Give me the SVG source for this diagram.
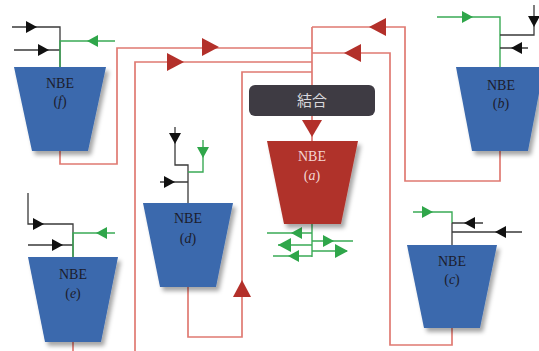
<svg xmlns="http://www.w3.org/2000/svg" xmlns:xlink="http://www.w3.org/1999/xlink" width="539" height="351" viewBox="0 0 539 351">
<style>
.red{fill:none;stroke:#e07a72;stroke-width:1.7}
.blk{fill:none;stroke:#3a3a3a;stroke-width:1.3}
.grn{fill:none;stroke:#3aaa55;stroke-width:1.4}
.ra{fill:#b3302a}
.ba{fill:#111}
.ga{fill:#2fa64a}
.blue{fill:#3a69ad;filter:url(#sh)}
.redn{fill:#b0332b;filter:url(#sh)}
.lbl{font-family:"Liberation Serif",serif;font-size:14px;text-anchor:middle;fill:#1c1c2c}
.lbl2{font-family:"Liberation Serif",serif;font-size:14px;text-anchor:middle;fill:#f3d6d2}
.it{font-style:italic}
</style>
<defs>
<filter id="sh" x="-20%" y="-20%" width="140%" height="140%">
<feDropShadow dx="3" dy="4" stdDeviation="2" flood-color="#000" flood-opacity="0.35"/>
</filter>
<path id="rt" d="M-8,-9 L9,0 L-8,9 Z"/>
<path id="st" d="M-5,-6 L6,0 L-5,6 Z"/>
<path id="bt" d="M-6,-7 L7,0 L-6,7 Z"/>
</defs>
<rect width="539" height="351" fill="#fff"/>

<g id="connectors">
<path class="red" d="M60,151 V164 H117 V48 H312"/>
<path class="red" d="M135,351 V62 H312"/>
<path class="red" d="M73,342 V351"/>
<path class="red" d="M188,287 V337 H242 V72 H312"/>
<path class="red" d="M500,151 V181 H405 V27 H312"/>
<path class="red" d="M452,328 V345 H390 V53 H312"/>
<path class="red" d="M312,27 V85"/>
<path class="red" d="M312,116 V141"/>
<use xlink:href="#rt" class="ra" transform="translate(210,47)"/>
<use xlink:href="#rt" class="ra" transform="translate(175,62)"/>
<use xlink:href="#rt" class="ra" transform="translate(378,27) rotate(180)"/>
<use xlink:href="#rt" class="ra" transform="translate(353,53) rotate(180)"/>
<use xlink:href="#rt" class="ra" transform="translate(242,289) rotate(-90)"/>
<path class="ra" d="M302,120 H322 L312,137 Z"/>
</g>

<g id="node-combine">
<rect x="249" y="85" width="126" height="31" rx="6" fill="#3e3b43"/>
<text x="312" y="106" font-family="'Noto Sans CJK JP','Noto Sans CJK SC',sans-serif" font-size="15" fill="#d8d8dc" text-anchor="middle">結合</text>
</g>

<g id="node-f">
<path class="blk" d="M12,27 H60 V67 M14,50 H60"/>
<path class="grn" d="M115,41 H60 V67"/>
<use xlink:href="#st" class="ba" transform="translate(31,27)"/>
<use xlink:href="#st" class="ba" transform="translate(43,50)"/>
<use xlink:href="#st" class="ga" transform="translate(93,41) rotate(180)"/>
<path class="blue" d="M14,67 H106 L88,151 H32 Z"/>
<text class="lbl" x="60" y="88">NBE</text>
<text class="lbl" x="60" y="106">(<tspan class="it">f</tspan>)</text>
</g>

<g id="node-b">
<path class="grn" d="M437,17 H500 V67"/>
<path class="blk" d="M534,5 V35 H500 M528,48 H500"/>
<use xlink:href="#st" class="ga" transform="translate(467,17)"/>
<use xlink:href="#st" class="ba" transform="translate(534,21) rotate(90)"/>
<use xlink:href="#st" class="ba" transform="translate(517,48) rotate(180)"/>
<path class="blue" d="M456,67 H544 L528,151 H472 Z"/>
<text class="lbl" x="501" y="90">NBE</text>
<text class="lbl" x="501" y="108">(<tspan class="it">b</tspan>)</text>
</g>

<g id="node-d">
<path class="blk" d="M175,127 V165 H188 V203 M160,182 H188"/>
<path class="grn" d="M203,140 V172 H188"/>
<use xlink:href="#st" class="ba" transform="translate(175,138) rotate(90)"/>
<use xlink:href="#st" class="ga" transform="translate(203,152) rotate(90)"/>
<use xlink:href="#st" class="ba" transform="translate(169,182)"/>
<path class="blue" d="M143,203 H233 L216,287 H160 Z"/>
<text class="lbl" x="188" y="223">NBE</text>
<text class="lbl" x="188" y="243">(<tspan class="it">d</tspan>)</text>
</g>

<g id="node-a">
<path class="grn" d="M312,224 V257 M267,233 H312 M278,245 H312 M312,241 H353 M273,256 H312 M312,251 H347"/>
<use xlink:href="#st" class="ga" transform="translate(297,233) rotate(180)"/>
<use xlink:href="#bt" class="ga" transform="translate(285,245) rotate(180)"/>
<use xlink:href="#st" class="ga" transform="translate(328,241)"/>
<use xlink:href="#st" class="ga" transform="translate(294,256) rotate(180)"/>
<use xlink:href="#bt" class="ga" transform="translate(341,251)"/>
<path class="redn" d="M267,141 H358 L341,224 H284 Z"/>
<text class="lbl2" x="312" y="161">NBE</text>
<text class="lbl2" x="312" y="180">(<tspan class="it">a</tspan>)</text>
</g>

<g id="node-c">
<path class="grn" d="M413,212 H452 V223"/>
<path class="blk" d="M452,223 V245 M483,223 H452 M522,232 H452"/>
<use xlink:href="#st" class="ga" transform="translate(427,212)"/>
<use xlink:href="#st" class="ba" transform="translate(470,223) rotate(180)"/>
<use xlink:href="#st" class="ba" transform="translate(501,232) rotate(180)"/>
<path class="blue" d="M407,245 H497 L480,328 H424 Z"/>
<text class="lbl" x="452" y="266">NBE</text>
<text class="lbl" x="452" y="284">(<tspan class="it">c</tspan>)</text>
</g>

<g id="node-e">
<path class="blk" d="M28,193 V224 H73 V257 M28,245 H73"/>
<path class="grn" d="M115,233 H73 V257"/>
<use xlink:href="#st" class="ba" transform="translate(38,224)"/>
<use xlink:href="#st" class="ba" transform="translate(57,245)"/>
<use xlink:href="#st" class="ga" transform="translate(102,233) rotate(180)"/>
<path class="blue" d="M28,257 H118 L101,342 H45 Z"/>
<text class="lbl" x="73" y="279">NBE</text>
<text class="lbl" x="73" y="298">(<tspan class="it">e</tspan>)</text>
</g>
</svg>
